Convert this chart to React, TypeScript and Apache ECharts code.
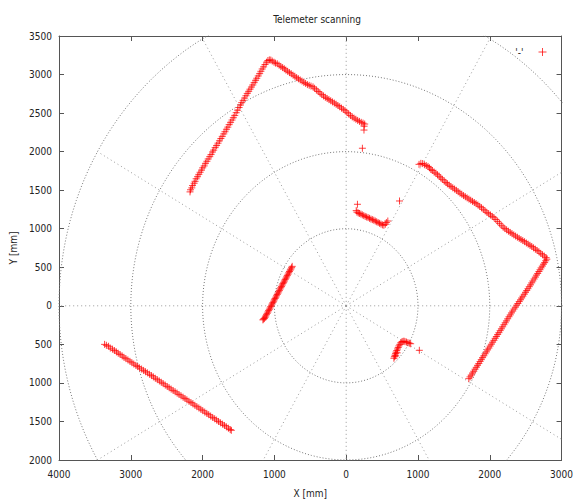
import React, { useEffect, useRef } from "react";
import * as echarts from "echarts";

const TITLE = "Telemeter scanning";
const X_NAME = "X [mm]";
const Y_NAME = "Y [mm]";
const SERIES_NAME = "'-'";
const X_MIN = -4000, X_MAX = 3000, X_STEP = 1000;
const Y_MIN = -2000, Y_MAX = 3500, Y_STEP = 500;
const GRID_RADII = [1000, 2000, 3000, 4000];
const GRID_ANGLES = [0, 30, 60, 90, 120, 150, 180, 210, 240, 270, 300, 330];

const wallA = [[-2175,1478],[-2168,1505],[-2150,1530],[-2140,1560],[-2118,1590],[-2105,1615],[-2090,1648],[-2070,1675],[-2052,1705],[-2035,1732],[-2015,1760],[-1998,1790],[-1978,1815],[-1960,1848],[-1940,1875],[-1922,1905],[-1900,1935],[-1882,1962],[-1862,1995],[-1845,2020],[-1825,2052],[-1805,2080],[-1785,2110],[-1765,2140],[-1745,2170],[-1726,2198],[-1705,2230],[-1688,2258],[-1668,2290],[-1648,2318],[-1630,2350],[-1610,2380],[-1590,2410],[-1572,2440],[-1552,2470],[-1532,2505],[-1512,2538],[-1492,2572],[-1472,2605],[-1455,2635],[-1435,2665],[-1415,2695],[-1396,2725],[-1378,2755],[-1358,2782],[-1340,2810],[-1320,2838],[-1300,2865],[-1282,2895],[-1262,2925],[-1245,2952],[-1225,2982],[-1205,3012],[-1188,3042],[-1170,3072],[-1150,3100],[-1130,3130],[-1110,3160],[-1090,3182],[-1070,3190],[-1050,3188]];
const wallB = [[-1030,3175],[-1005,3160],[-985,3148],[-960,3140],[-935,3122],[-910,3105],[-885,3090],[-862,3075],[-840,3058],[-815,3042],[-790,3025],[-765,3010],[-740,2992],[-715,2978],[-690,2960],[-665,2945],[-640,2930],[-615,2915],[-590,2898],[-565,2885],[-540,2870],[-515,2860],[-490,2850],[-462,2840],[-440,2822],[-415,2800],[-390,2780],[-365,2760],[-340,2740],[-315,2722],[-290,2705],[-265,2690],[-240,2675],[-215,2660],[-190,2645],[-165,2630],[-140,2615],[-115,2598],[-90,2582],[-65,2565],[-40,2548],[-15,2530],[10,2510],[35,2490],[60,2468],[85,2450],[110,2435],[135,2420],[160,2405],[185,2392],[210,2380],[235,2370],[258,2358],[250,2330],[248,2280],[226,2044]];
const wallC = [[157,1317],[140,1235],[150,1215],[168,1205],[185,1198],[205,1190],[225,1180],[245,1170],[265,1160],[285,1152],[305,1145],[325,1135],[345,1125],[365,1118],[385,1110],[405,1100],[425,1090],[445,1080],[465,1070],[485,1060],[505,1050],[525,1045],[545,1058],[560,1080],[580,1100],[743,1360]];
const wallD = [[1015,1835],[1040,1848],[1065,1845],[1090,1830],[1115,1820],[1140,1808],[1160,1790],[1180,1770],[1200,1755],[1225,1735],[1250,1720],[1272,1700],[1295,1680],[1318,1660],[1340,1640],[1365,1620],[1390,1600],[1410,1582],[1435,1565],[1460,1548],[1485,1530],[1510,1515],[1535,1498],[1560,1480],[1585,1462],[1610,1448],[1635,1430],[1660,1415],[1685,1400],[1710,1385],[1735,1370],[1760,1355],[1785,1340],[1810,1325],[1835,1308],[1860,1290],[1885,1272],[1910,1252],[1935,1232],[1960,1212],[1985,1195],[2010,1178],[2035,1160],[2060,1142],[2085,1120],[2110,1095],[2135,1070],[2160,1045],[2185,1022],[2210,1002],[2235,985],[2260,968],[2285,952],[2310,936],[2335,920],[2360,905],[2385,890],[2410,875],[2435,860],[2460,846],[2485,832],[2510,815],[2535,800],[2560,785],[2585,770],[2610,752],[2635,735],[2660,718],[2685,700],[2710,680],[2735,662],[2760,645],[2785,625],[2795,605]];
const wallE = [[2780,585],[2765,560],[2748,540],[2732,515],[2715,492],[2700,468],[2685,445],[2668,420],[2650,398],[2635,372],[2618,348],[2600,322],[2585,298],[2568,272],[2550,248],[2532,222],[2515,198],[2498,175],[2480,150],[2462,125],[2445,102],[2428,78],[2410,55],[2392,30],[2375,8],[2356,-18],[2338,-42],[2320,-68],[2302,-92],[2285,-118],[2268,-142],[2250,-168],[2232,-195],[2215,-220],[2198,-245],[2180,-272],[2162,-298],[2145,-322],[2128,-348],[2110,-372],[2092,-398],[2075,-422],[2058,-448],[2040,-472],[2022,-498],[2005,-522],[1988,-548],[1970,-572],[1952,-598],[1935,-622],[1918,-648],[1900,-672],[1882,-698],[1865,-722],[1848,-748],[1830,-772],[1812,-798],[1795,-822],[1778,-848],[1760,-872],[1742,-898],[1725,-922],[1708,-945]];
const wallF = [[-752,512],[-760,495],[-770,478],[-780,462],[-790,445],[-800,428],[-810,410],[-820,392],[-830,375],[-840,358],[-850,340],[-860,322],[-870,305],[-880,288],[-890,270],[-900,252],[-910,235],[-920,218],[-930,200],[-940,182],[-950,165],[-960,148],[-970,130],[-980,112],[-990,95],[-1000,78],[-1010,60],[-1020,42],[-1030,25],[-1040,8],[-1050,-10],[-1060,-28],[-1070,-45],[-1080,-62],[-1090,-80],[-1100,-98],[-1110,-115],[-1120,-132],[-1130,-150],[-1140,-165],[-1150,-172],[-1160,-182]];
const wallG = [[665,-680],[672,-660],[680,-640],[688,-620],[695,-600],[705,-580],[715,-560],[725,-540],[735,-520],[748,-500],[760,-480],[775,-468],[790,-462],[805,-458],[820,-465],[840,-470],[860,-478],[880,-485],[898,-492],[690,-650],[710,-610],[1019,-577]];
const wallH = [[-3365,-500],[-3340,-512],[-3310,-525],[-3285,-548],[-3255,-562],[-3228,-580],[-3200,-598],[-3175,-615],[-3148,-632],[-3120,-650],[-3095,-668],[-3068,-685],[-3040,-702],[-3012,-720],[-2985,-738],[-2958,-755],[-2930,-772],[-2905,-788],[-2878,-805],[-2850,-820],[-2822,-838],[-2795,-855],[-2768,-870],[-2740,-888],[-2712,-905],[-2685,-922],[-2658,-940],[-2630,-958],[-2602,-975],[-2575,-992],[-2548,-1010],[-2520,-1028],[-2492,-1046],[-2465,-1063],[-2438,-1080],[-2410,-1098],[-2382,-1115],[-2355,-1132],[-2328,-1150],[-2300,-1168],[-2272,-1185],[-2245,-1202],[-2218,-1220],[-2190,-1238],[-2162,-1255],[-2135,-1272],[-2108,-1290],[-2080,-1308],[-2052,-1325],[-2025,-1342],[-1998,-1360],[-1970,-1378],[-1942,-1395],[-1915,-1412],[-1888,-1430],[-1860,-1448],[-1832,-1465],[-1805,-1482],[-1778,-1500],[-1750,-1518],[-1722,-1535],[-1695,-1552],[-1668,-1570],[-1640,-1588],[-1615,-1605],[-1600,-1615]];

const FONT = "'DejaVu Sans Condensed', 'Liberation Sans', sans-serif";
const PLUS = "path://M0,5L10,5M5,0L5,10";

export default function App() {
  const ref = useRef<HTMLDivElement>(null);
  useEffect(() => {
    const chart = echarts.init(ref.current!, null, { renderer: "svg" });
    const gridSeries: any[] = [];
    GRID_RADII.forEach((r) => {
      const pts: number[][] = [];
      for (let d = 0; d <= 360; d += 2) {
        const a = (d * Math.PI) / 180;
        pts.push([r * Math.cos(a), r * Math.sin(a)]);
      }
      gridSeries.push({
        type: "line", data: pts, showSymbol: false, silent: true, clip: true,
        lineStyle: { color: "#777", width: 1, type: [1, 2] }, z: 1,
      });
    });
    GRID_ANGLES.forEach((deg) => {
      const a = (deg * Math.PI) / 180;
      const R = GRID_RADII[GRID_RADII.length - 1];
      gridSeries.push({
        type: "line", data: [[0, 0], [R * Math.cos(a), R * Math.sin(a)]],
        showSymbol: false, silent: true, clip: true,
        lineStyle: { color: "#999", width: 1, type: [1, 3] }, z: 1,
      });
    });
    const allPoints = [...wallA, ...wallB, ...wallC, ...wallD, ...wallE, ...wallF, ...wallG, ...wallH];
    const axisColor = "#555";
    const labelFmt = (v: number) => String(Math.abs(v));
    chart.setOption({
      animation: false,
      textStyle: { fontFamily: FONT },
      title: {
        text: TITLE, left: 312, top: 9, textAlign: "center",
        textStyle: { fontSize: 10, fontWeight: "normal", color: "#222", fontFamily: FONT },
      },
      legend: {
        right: 24, top: 42, align: "right", itemWidth: 8, itemHeight: 8,
        data: [{ name: SERIES_NAME, icon: PLUS }],
        textStyle: { fontSize: 10, color: "#222", fontFamily: FONT, padding: [0, 10, 0, 0] },
        itemStyle: { color: "#ff0000", borderColor: "#ff0000", borderWidth: 1 },
      },
      grid: { left: 59, right: 11, top: 36, bottom: 41 },
      xAxis: [
        {
          type: "value", min: X_MIN, max: X_MAX, interval: X_STEP, position: "bottom",
          name: X_NAME, nameLocation: "middle", nameGap: 28,
          nameTextStyle: { fontSize: 10, color: "#222", fontFamily: FONT },
          axisLine: { onZero: false, lineStyle: { color: axisColor } },
          axisTick: { inside: true, length: 5, lineStyle: { color: axisColor } },
          axisLabel: { formatter: labelFmt, fontSize: 10, color: "#222", margin: 9, fontFamily: FONT },
          splitLine: { show: false },
        },
        {
          type: "value", min: X_MIN, max: X_MAX, interval: X_STEP, position: "top",
          axisLine: { onZero: false, lineStyle: { color: axisColor } },
          axisTick: { inside: true, length: 5, lineStyle: { color: axisColor } },
          axisLabel: { show: false }, splitLine: { show: false },
        },
      ],
      yAxis: [
        {
          type: "value", min: Y_MIN, max: Y_MAX, interval: Y_STEP, position: "left",
          name: Y_NAME, nameLocation: "middle", nameGap: 37, nameRotate: 90,
          nameTextStyle: { fontSize: 10, color: "#222", fontFamily: FONT },
          axisLine: { onZero: false, lineStyle: { color: axisColor } },
          axisTick: { inside: true, length: 5, lineStyle: { color: axisColor } },
          axisLabel: { formatter: labelFmt, fontSize: 10, color: "#222", margin: 7, fontFamily: FONT },
          splitLine: { show: false },
        },
        {
          type: "value", min: Y_MIN, max: Y_MAX, interval: Y_STEP, position: "right",
          axisLine: { onZero: false, lineStyle: { color: axisColor } },
          axisTick: { inside: true, length: 5, lineStyle: { color: axisColor } },
          axisLabel: { show: false }, splitLine: { show: false },
        },
      ],
      series: [
        ...gridSeries,
        {
          name: SERIES_NAME, type: "scatter", data: allPoints, symbol: PLUS, symbolSize: 7,
          itemStyle: { color: "#ff0000", borderColor: "#ff0000", borderWidth: 1, opacity: 0.75 },
          z: 3,
        },
      ],
    });
    return () => chart.dispose();
  }, []);
  return <div ref={ref} style={{ position: "fixed", left: 0, top: 0, width: 576, height: 503, background: "#fff" }} />;
}
